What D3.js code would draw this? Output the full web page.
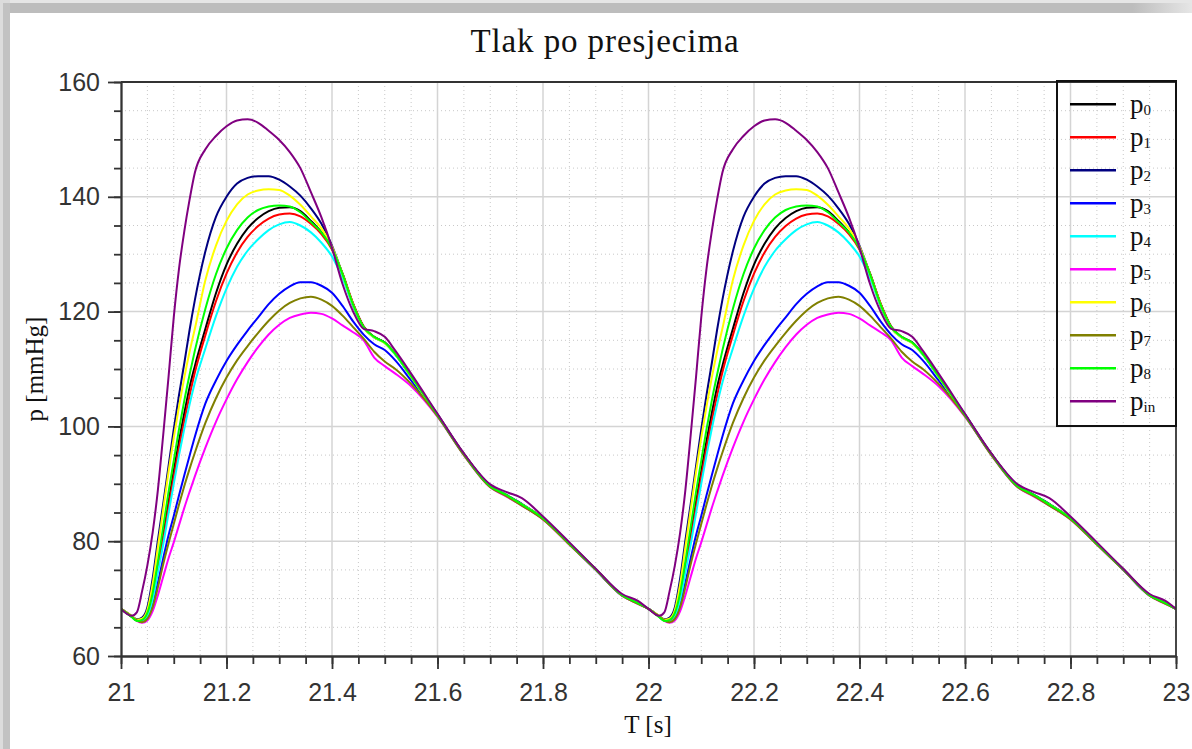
<!DOCTYPE html>
<html>
<head>
<meta charset="utf-8">
<script src="https://cdn.jsdelivr.net/npm/d3@7"></script>
<style>
  html, body { margin: 0; padding: 0; background: #fff; }
  svg { display: block; }
</style>
</head>
<body>
<svg id="chart"></svg>
<script>
// one heart cycle, offsets in seconds from the cycle start (21 s and 22 s)
const cycleStarts = [21, 22];
const times = [0, 0.02, 0.03, 0.04, 0.05, 0.06, 0.07, 0.08, 0.09, 0.10, 0.11, 0.12, 0.13, 0.14,
  0.16, 0.18, 0.20, 0.22, 0.24, 0.26, 0.28, 0.30, 0.32, 0.34, 0.36, 0.38, 0.40, 0.42, 0.44,
  0.46, 0.48, 0.50, 0.52, 0.55, 0.60, 0.65, 0.70, 0.73, 0.76, 0.80, 0.85, 0.90, 0.95, 0.98, 1.00];

const p0 = [68.2, 66.9, 66.2, 66.2, 67.3, 70.5, 75.8, 81.0, 86.8, 92.3, 97.5, 102.3, 106.8, 110.5,
  117.0, 123.2, 128.2, 131.8, 134.5, 136.3, 137.5, 138.1, 138.2, 137.5, 135.8, 133.8, 131.0, 126.6, 121.4,
  117.4, 115.6, 114.6, 112.6, 108.7, 102.0, 95.2, 89.6, 88.0, 86.4, 84.0, 79.6, 75.1, 70.6, 69.2, 68.2];
const p1 = [68.2, 66.9, 66.2, 66.1, 67.1, 70.2, 75.2, 80.2, 85.8, 91.2, 96.3, 101.0, 105.4, 109.4,
  115.9, 121.8, 126.6, 130.3, 133.0, 134.9, 136.2, 136.9, 137.1, 136.6, 135.3, 133.5, 130.8, 126.6, 121.4,
  117.4, 115.6, 114.6, 112.6, 108.7, 102.0, 95.2, 89.6, 88.0, 86.4, 84.0, 79.6, 75.1, 70.6, 69.2, 68.2];
const p2 = [68.2, 67.0, 66.4, 66.7, 68.5, 73.5, 80.2, 86.5, 93.0, 99.5, 105.5, 111.0, 116.8, 122.0,
  130.5, 136.5, 140.0, 142.3, 143.3, 143.6, 143.6, 143.0, 141.8, 140.2, 138.0, 135.3, 131.5, 126.5, 121.0,
  117.2, 115.5, 114.6, 112.6, 108.6, 102.1, 95.2, 89.7, 88.1, 86.5, 84.0, 79.6, 75.1, 70.6, 69.2, 68.2];
const p3 = [68.2, 66.9, 66.2, 66.0, 66.7, 69.0, 72.8, 77.0, 81.0, 84.4, 88.0, 91.5, 94.9, 98.2,
  104.0, 108.0, 111.4, 114.2, 116.7, 119.0, 121.3, 123.1, 124.4, 125.1, 125.1, 124.5, 123.3, 121.0, 118.3,
  116.0, 114.3, 113.3, 111.5, 108.0, 101.9, 95.1, 89.5, 88.0, 86.3, 83.9, 79.5, 75.0, 70.5, 69.2, 68.2];
const p4 = [68.2, 66.9, 66.2, 66.0, 66.9, 69.8, 74.6, 79.4, 84.8, 90.0, 95.0, 99.6, 103.8, 107.6,
  113.6, 119.2, 124.0, 127.8, 130.6, 132.6, 134.2, 135.2, 135.6, 135.0, 133.8, 132.0, 129.6, 125.8, 121.0,
  117.2, 115.5, 114.5, 112.5, 108.6, 102.0, 95.2, 89.6, 88.0, 86.4, 84.0, 79.6, 75.1, 70.6, 69.2, 68.2];
const p5 = [68.2, 66.9, 66.1, 65.8, 66.2, 67.8, 70.6, 73.8, 77.0, 79.8, 82.8, 85.8, 88.6, 91.3,
  96.3, 100.8, 104.7, 108.2, 111.2, 113.8, 116.0, 117.7, 118.9, 119.5, 119.8, 119.6, 118.8, 117.6, 116.4,
  115.0, 112.0, 110.5, 109.2, 107.0, 101.7, 95.0, 89.4, 87.8, 86.2, 83.8, 79.4, 75.0, 70.5, 69.1, 68.2];
const p6 = [68.2, 67.0, 66.3, 66.5, 68.0, 72.5, 79.0, 85.5, 92.0, 98.0, 103.5, 108.5, 113.0, 117.0,
  125.5, 131.5, 135.8, 138.7, 140.4, 141.1, 141.3, 141.2, 140.2, 138.6, 136.6, 134.5, 131.3, 126.5, 121.2,
  117.2, 115.5, 114.5, 112.6, 108.6, 102.0, 95.2, 89.6, 88.0, 86.4, 84.0, 79.6, 75.1, 70.6, 69.2, 68.2];
const p7 = [68.2, 66.9, 66.2, 65.9, 66.5, 68.5, 72.0, 76.0, 79.6, 83.0, 86.4, 89.6, 92.6, 95.4,
  100.6, 104.9, 108.5, 111.5, 114.0, 116.3, 118.4, 120.2, 121.5, 122.3, 122.6, 122.1, 121.0, 119.3, 117.3,
  115.3, 113.0, 111.3, 110.0, 107.4, 101.8, 95.0, 89.4, 87.9, 86.2, 83.8, 79.4, 75.0, 70.5, 69.1, 68.2];
const p8 = [68.2, 66.8, 66.1, 66.3, 67.5, 71.0, 76.5, 82.5, 88.5, 94.0, 99.5, 104.5, 109.0, 113.2,
  120.5, 126.5, 131.0, 134.2, 136.4, 137.7, 138.3, 138.5, 138.3, 137.3, 135.6, 133.8, 131.0, 126.5, 121.2,
  117.3, 115.6, 114.6, 112.6, 108.7, 102.0, 95.2, 89.6, 88.1, 86.4, 84.0, 79.6, 75.1, 70.6, 69.2, 68.2];
const pin = [68.2, 67.0, 67.6, 71.3, 75.8, 81.5, 89.0, 98.5, 108.5, 119.0, 127.5, 134.0, 139.5, 144.2,
  148.3, 150.6, 152.3, 153.3, 153.5, 152.9, 151.5, 149.9, 147.8, 145.0, 140.8, 136.4, 131.1, 124.8, 120.0,
  117.0, 116.6, 115.6, 113.2, 109.2, 102.2, 95.3, 89.9, 88.6, 87.5, 84.3, 79.8, 75.2, 70.8, 69.6, 68.2];

const seriesNames = ["0", "1", "2", "3", "4", "5", "6", "7", "8", "in"];
const seriesValues = [p0, p1, p2, p3, p4, p5, p6, p7, p8, pin];
const seriesColors = ["#000000", "#ff0000", "#000080", "#0000ff", "#00ffff",
  "#ff00ff", "#ffff00", "#808000", "#00ff00", "#800080"];

const xMajor = [21, 21.2, 21.4, 21.6, 21.8, 22, 22.2, 22.4, 22.6, 22.8, 23];
const yMajor = [60, 80, 100, 120, 140, 160];

const width = 1192, height = 749;
const plot = { left: 121, right: 1176, top: 82, bottom: 656 };

const svg = d3.select("#chart").attr("width", width).attr("height", height);

// screenshot frame / shadow along top and left
const defs = svg.append("defs");
const gTop = defs.append("linearGradient").attr("id", "fadeTop").attr("x1", 0).attr("x2", 1);
gTop.append("stop").attr("offset", "0.95").attr("stop-color", "#bdbdbd");
gTop.append("stop").attr("offset", "1").attr("stop-color", "#e6e6e6");
svg.append("rect").attr("x", 0).attr("y", 0).attr("width", width).attr("height", 13).attr("fill", "#e6e6e6");
svg.append("rect").attr("x", 0).attr("y", 0).attr("width", 10).attr("height", height).attr("fill", "#dcdcdc");
svg.append("rect").attr("x", 3).attr("y", 3).attr("width", width - 3).attr("height", 10).attr("fill", "url(#fadeTop)");
svg.append("rect").attr("x", 3).attr("y", 3).attr("width", 7).attr("height", height).attr("fill", "#c2c2c2");

defs.append("clipPath").attr("id", "plotClip").append("rect")
  .attr("x", plot.left).attr("y", plot.top)
  .attr("width", plot.right - plot.left).attr("height", plot.bottom - plot.top);

const x = d3.scaleLinear().domain([21, 23]).range([plot.left, plot.right]);
const y = d3.scaleLinear().domain([60, 160]).range([plot.bottom, plot.top]);

const xMinor = d3.range(21, 23.0001, 0.05).map(v => +v.toFixed(2));
const yMinor = d3.range(60, 160.0001, 5);

// grid
const grid = svg.append("g");
grid.selectAll(".xminor").data(xMinor.filter(v => !xMajor.some(m => Math.abs(m - v) < 1e-6)))
  .enter().append("line")
  .attr("x1", d => x(d)).attr("x2", d => x(d))
  .attr("y1", plot.top).attr("y2", plot.bottom)
  .attr("stroke", "#c8c8c8").attr("stroke-width", 1).attr("stroke-dasharray", "1,3");
grid.selectAll(".yminor").data(yMinor.filter(v => v % 20 !== 0))
  .enter().append("line")
  .attr("x1", plot.left).attr("x2", plot.right)
  .attr("y1", d => y(d)).attr("y2", d => y(d))
  .attr("stroke", "#c8c8c8").attr("stroke-width", 1).attr("stroke-dasharray", "1,3");
grid.selectAll(".xmajor").data(xMajor.slice(1, -1))
  .enter().append("line")
  .attr("x1", d => x(d)).attr("x2", d => x(d))
  .attr("y1", plot.top).attr("y2", plot.bottom)
  .attr("stroke", "#d4d4d4").attr("stroke-width", 1.5);
grid.selectAll(".ymajor").data(yMajor.slice(1, -1))
  .enter().append("line")
  .attr("x1", plot.left).attr("x2", plot.right)
  .attr("y1", d => y(d)).attr("y2", d => y(d))
  .attr("stroke", "#d4d4d4").attr("stroke-width", 1.5);

// curves: both cycles share the same read-off values
const series = seriesValues.map((vals, i) => {
  const pts = [];
  cycleStarts.forEach((c, ci) => {
    times.forEach((t, j) => {
      if (ci > 0 && j === 0) return;
      pts.push({ t: c + t, p: vals[j] });
    });
  });
  return { name: seriesNames[i], color: seriesColors[i], pts };
});

const line = d3.line().x(d => x(d.t)).y(d => y(d.p)).curve(d3.curveMonotoneX);

svg.append("g").attr("clip-path", "url(#plotClip)")
  .selectAll("path").data(series).enter().append("path")
  .attr("d", d => line(d.pts))
  .attr("fill", "none")
  .attr("stroke", d => d.color)
  .attr("stroke-width", 2);

// axes
const axisColor = "#333";
const tickFont = "'Liberation Sans', Arial, sans-serif";

const xAxis = svg.append("g").attr("transform", `translate(0,${plot.bottom})`)
  .call(d3.axisBottom(x).tickValues(xMajor).tickSize(13).tickPadding(14).tickSizeOuter(0)
    .tickFormat(d => d3.format("~g")(d)));
const xAxisMinor = svg.append("g").attr("transform", `translate(0,${plot.bottom})`)
  .call(d3.axisBottom(x).tickValues(xMinor).tickSize(8).tickFormat("").tickSizeOuter(0));
const yAxis = svg.append("g").attr("transform", `translate(${plot.left},0)`)
  .call(d3.axisLeft(y).tickValues(yMajor).tickSize(13).tickPadding(8).tickSizeOuter(0));
const yAxisMinor = svg.append("g").attr("transform", `translate(${plot.left},0)`)
  .call(d3.axisLeft(y).tickValues(yMinor).tickSize(7).tickFormat("").tickSizeOuter(0));

[xAxis, xAxisMinor, yAxis, yAxisMinor].forEach(a => {
  a.selectAll("path, line").attr("stroke", axisColor).attr("stroke-width", 1.8);
  a.selectAll("text").attr("fill", axisColor).style("font-family", tickFont).style("font-size", "25px");
});

// top and right frame lines
svg.append("line").attr("x1", plot.left).attr("x2", plot.right).attr("y1", plot.top).attr("y2", plot.top)
  .attr("stroke", axisColor).attr("stroke-width", 1.8);
svg.append("line").attr("x1", plot.right).attr("x2", plot.right).attr("y1", plot.top).attr("y2", plot.bottom)
  .attr("stroke", axisColor).attr("stroke-width", 1.8);

// titles
const serif = "'Liberation Serif', 'Times New Roman', serif";
svg.append("text").attr("x", 605).attr("y", 52).attr("text-anchor", "middle")
  .style("font-family", serif).style("font-size", "33px").style("letter-spacing", "0.9px")
  .attr("fill", "#111")
  .text("Tlak po presjecima");
svg.append("text").attr("x", 648).attr("y", 733).attr("text-anchor", "middle")
  .style("font-family", serif).style("font-size", "25px").attr("fill", "#111")
  .text("T [s]");
svg.append("text").attr("transform", `translate(43,${(plot.top + plot.bottom) / 2}) rotate(-90)`)
  .attr("text-anchor", "middle")
  .style("font-family", serif).style("font-size", "25px").attr("fill", "#111")
  .text("p [mmHg]");

// legend
const legend = svg.append("g");
legend.append("rect").attr("x", 1057).attr("y", 81).attr("width", 119).attr("height", 345)
  .attr("fill", "none").attr("stroke", "#111").attr("stroke-width", 2);
const items = legend.selectAll(".item").data(series).enter().append("g")
  .attr("transform", (d, i) => `translate(1070,${104.3 + i * 33})`);
items.append("line").attr("x1", 0).attr("x2", 46).attr("y1", 0).attr("y2", 0)
  .attr("stroke", d => d.color).attr("stroke-width", 2.5);
const lt = items.append("text").attr("x", 60).attr("y", 9)
  .style("font-family", serif).style("font-size", "27px").attr("fill", "#111");
lt.append("tspan").text("p");
lt.append("tspan").attr("dy", 2).style("font-size", "15px").text(d => d.name);
</script>
</body>
</html>
